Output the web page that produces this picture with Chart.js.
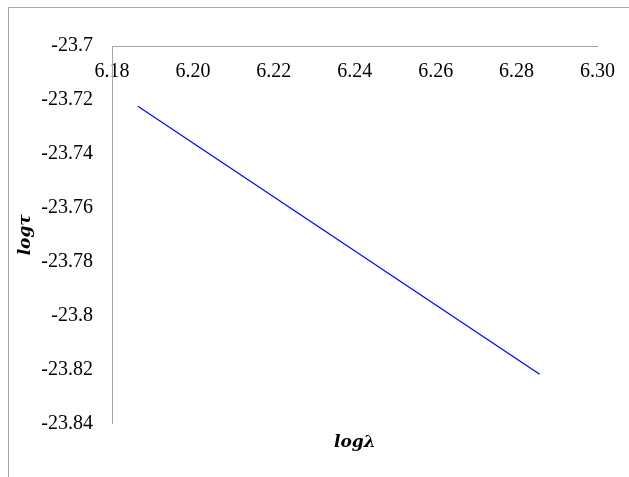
<!DOCTYPE html>
<html>
<head>
<meta charset="utf-8">
<script src="https://cdn.jsdelivr.net/npm/chart.js@4/dist/chart.umd.min.js"></script>
<style>
    html, body { margin: 0; padding: 0; background: #ffffff; overflow: hidden; }
    #frame {
        position: absolute; left: 8px; top: 7px; width: 800px; height: 700px;
        border-left: 1px solid #a6a6a6; border-top: 1px solid #a6a6a6;
    }
    #wrap { position: absolute; left: 0; top: 0; width: 629px; height: 477px; }
</style>
</head>
<body>
<div id="frame"></div>
<div id="wrap"><canvas id="lineChart" width="629" height="477"></canvas></div>
<script>
"use strict";

// Values
const logLambda = [6.1864, 6.2857];
const logTau = [-23.7223, -23.8217];

const xTicks = [6.18, 6.20, 6.22, 6.24, 6.26, 6.28, 6.30];
const xTickLabels = ["6.18", "6.20", "6.22", "6.24", "6.26", "6.28", "6.30"];
const yTicks = [-23.84, -23.82, -23.8, -23.78, -23.76, -23.74, -23.72, -23.7];
const yTickLabels = ["-23.84", "-23.82", "-23.8", "-23.78", "-23.76", "-23.74", "-23.72", "-23.7"];

const points = logLambda.map((x, i) => ({ x: x, y: logTau[i] }));

const tickFont = { family: "'Liberation Serif', 'Times New Roman', serif", size: 20 };
const titleFont = { family: "'DejaVu Serif', serif", size: 17, style: 'italic', weight: 'bold' };
const axisColor = '#a6a6a6';

const ctx = document.getElementById('lineChart');
new Chart(ctx, {
    type: 'scatter',
    data: {
        datasets: [{
            data: points,
            showLine: true,
            borderColor: '#0000ff',
            borderWidth: 1.2,
            pointRadius: 0,
            fill: false
        }]
    },
    options: {
        responsive: false,
        animation: false,
        layout: { padding: { left: 0, right: 30, top: 46, bottom: 24 } },
        plugins: {
            legend: { display: false },
            tooltip: { enabled: false },
            title: {
                display: true,
                position: 'bottom',
                fullSize: false,
                text: 'logλ',
                color: '#000000',
                font: titleFont,
                padding: { top: 9, bottom: 0 }
            }
        },
        scales: {
            x: {
                type: 'linear',
                position: { y: -23.7 },
                min: 6.18,
                max: 6.30,
                afterBuildTicks: function(scale) {
                    scale.ticks = xTicks.map(v => ({ value: v }));
                },
                afterFit: function(scale) {
                    scale.height = 0;
                },
                grid: { display: false, drawTicks: false },
                border: { display: true, color: axisColor, width: 1 },
                ticks: {
                    color: '#000000',
                    font: tickFont,
                    padding: 14,
                    maxRotation: 0,
                    autoSkip: false,
                    callback: function(value, index) {
                        return xTickLabels[index];
                    }
                }
            },
            y: {
                type: 'linear',
                position: 'left',
                min: -23.84,
                max: -23.7,
                afterBuildTicks: function(scale) {
                    scale.ticks = yTicks.map(v => ({ value: v }));
                },
                afterFit: function(scale) {
                    scale.width = 112;
                },
                grid: { display: false, drawTicks: false },
                border: { display: true, color: axisColor, width: 1 },
                title: {
                    display: true,
                    text: 'logτ',
                    color: '#000000',
                    font: titleFont,
                    padding: { top: 15, bottom: 0 }
                },
                ticks: {
                    color: '#000000',
                    font: tickFont,
                    padding: 19,
                    autoSkip: false,
                    callback: function(value, index) {
                        return yTickLabels[index];
                    }
                }
            }
        }
    }
});
</script>
</body>
</html>
